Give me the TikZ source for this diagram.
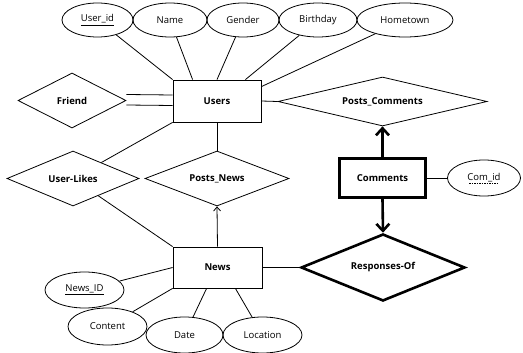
\documentclass[tikz,border=0pt]{standalone}
\usepackage{fontspec}
\setmainfont{Open Sans}
\usetikzlibrary{shapes.geometric,arrows.meta}
\tikzset{
  attr/.style={ellipse,draw,line width=0.8pt,inner sep=0pt,font=\fontsize{9.5}{11}\selectfont},
  ent/.style={rectangle,draw,line width=0.8pt,inner sep=0pt,font=\fontsize{9.5}{11}\selectfont\bfseries},
  rel/.style={diamond,draw,line width=0.8pt,inner sep=0pt,aspect=2,font=\fontsize{9.5}{11}\selectfont\bfseries},
  thin/.style={line width=0.8pt},
  bigarrow/.style={line width=2.6pt,-{Straight Barb[length=7pt,width=13pt,line width=2.6pt]}},
  smallarrow/.style={line width=0.8pt,-{Straight Barb[length=4pt,width=7pt]}}
}
\begin{document}
\begin{tikzpicture}[x=1pt,y=-1pt]
\useasboundingbox (0,0) rectangle (523,353);
% attributes of Users
\node[attr,minimum width=71pt,minimum height=34pt] (uid) at (97.5,20) {\underline{User\_id}};
\node[attr,minimum width=74pt,minimum height=34pt] (name) at (170,20) {Name};
\node[attr,minimum width=72pt,minimum height=34pt] (gender) at (243,20) {Gender};
\node[attr,minimum width=78pt,minimum height=34pt] (bday) at (318,20) {Birthday};
\node[attr,minimum width=96pt,minimum height=34pt] (home) at (405,20) {Hometown};
% entities
\node[ent,minimum width=88pt,minimum height=42pt] (users) at (217,101) {Users};
\node[ent,minimum width=89pt,minimum height=41pt] (news) at (217.5,267.5) {News};
\node[ent,line width=2.6pt,minimum width=86pt,minimum height=39pt] (comments) at (382.5,178) {Comments};
% relationships
\node[rel,minimum width=108pt,minimum height=55pt] (friend) at (72,100.5) {Friend};
\node[rel,minimum width=209pt,minimum height=49pt] (pc) at (382.5,101.5) {Posts\_Comments};
\node[rel,minimum width=132pt,minimum height=55pt] (ul) at (73,178.5) {User-Likes};
\node[rel,minimum width=144pt,minimum height=55pt] (pn) at (217,178.5) {Posts\_News};
\node[rel,line width=2.6pt,minimum width=164pt,minimum height=67pt] (ro) at (383,267.5) {Responses-Of};
% other attributes
\node[attr,minimum width=73pt,minimum height=36pt] (cid) at (484,178) {Com\_id};
\draw[line width=0.6pt,dash pattern=on 1.5pt off 1pt] ([xshift=-15pt,yshift=-2.2pt]cid.base) -- ([xshift=15pt,yshift=-2.2pt]cid.base);
\node[attr,minimum width=79pt,minimum height=36pt] (nid) at (84.5,290) {\underline{News\_ID}};
\node[attr,minimum width=79pt,minimum height=37pt] (content) at (107.5,326.5) {Content};
\node[attr,minimum width=77pt,minimum height=36pt] (date) at (184.5,335) {Date};
\node[attr,minimum width=79pt,minimum height=36pt] (loc) at (262.5,335) {Location};
% connectors: Users attributes
\draw[thin] (uid) -- (users.north west);
\draw[thin] (name) -- ([xshift=20pt]users.north west);
\draw[thin] (gender) -- (users.north);
\draw[thin] (bday) -- ([xshift=-16pt]users.north east);
\draw[thin] (home) -- ([yshift=-7pt]users.north east);
% Friend double line
\draw[thin] ([yshift=-4.5pt]friend.east) -- ([yshift=-4.5pt]users.west);
\draw[thin] ([yshift=6pt]friend.east) -- ([yshift=6pt]users.west);
% Users to relationships
\draw[thin] (users.east) -- (pc.west);
\draw[thin] (users.south west) -- (ul);
\draw[thin] (users.south) -- (pn.north);
% News
\draw[smallarrow] (news.north) -- (pn.south);
\draw[thin] (ul) -- (news.north west);
\draw[thin] (news.east) -- (ro.west);
\draw[thin] (nid) -- (news.west);
\draw[thin] (content) -- (news.south west);
\draw[thin] (date) -- ([xshift=34pt]news.south west);
\draw[thin] (loc) -- ([xshift=-27pt]news.south east);
% Comments
\draw[bigarrow] (comments.north) -- (pc.south);
\draw[bigarrow] (comments.south) -- (ro.north);
\draw[thin] (comments.east) -- (cid.west);
\end{tikzpicture}
\end{document}
